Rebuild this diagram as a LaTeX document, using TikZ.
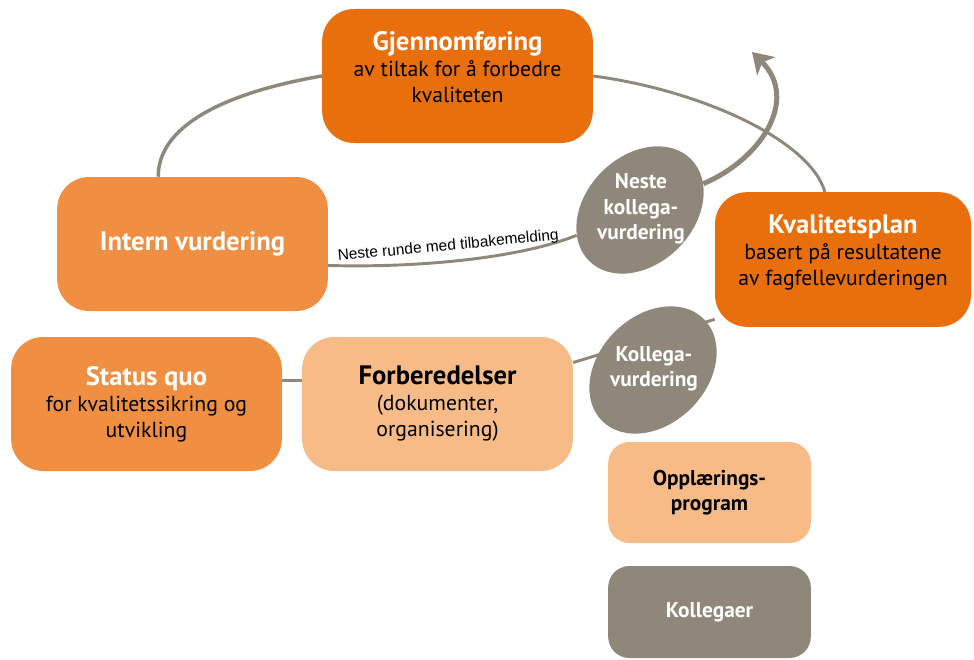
\documentclass[tikz,border=0pt]{standalone}
\usepackage{fontspec}
\setmainfont{PT Sans}
\newfontfamily\notefont{Liberation Sans}
\usetikzlibrary{shapes.geometric,arrows.meta,backgrounds}
\newcommand{\boxtitle}[1]{{\fontsize{20}{24}\selectfont\bfseries #1}}

\begin{document}
\begin{tikzpicture}[x=0.75pt,y=0.75pt,yscale=-1,xscale=1,
	box/.style={rounded corners=24pt, minimum width=203pt, minimum height=100.5pt, inner sep=0pt, align=center, font=\fontsize{16.3}{19.5}\selectfont},
	smallbox/.style={rounded corners=16pt, minimum width=152pt, inner sep=0pt, align=center, font=\fontsize{16}{19}\selectfont\bfseries},
	deeporange/.style={fill={rgb, 255:red, 233; green, 110; blue, 12 }},
	midorange/.style={fill={rgb, 255:red, 240; green, 142; blue, 65 }},
	paleorange/.style={fill={rgb, 255:red, 246; green, 187; blue, 134 }},
	taupe/.style={fill={rgb, 255:red, 143; green, 136; blue, 122 }},
	oval/.style={ellipse, taupe, minimum width=108pt, minimum height=81pt, inner sep=0pt, rotate=45},
	ovaltext/.style={align=center, text=white, inner sep=0pt, font=\fontsize{16}{19}\selectfont\bfseries},
	link/.style={draw={rgb, 255:red, 143; green, 136; blue, 122 }, line width=2.2pt}
]
	\useasboundingbox (0,0) rectangle (974,660);
	% boxes
	\draw (457.5,76) node [box, deeporange] (gjenn) {\boxtitle{\color{white}Gjennomføring}\\av tiltak for å forbedre\\kvaliteten\\[-6pt]\mbox{}};
	\draw (192.5,244) node [box, midorange, text=white] (intern) {\boxtitle{Intern vurdering}};
	\draw (843,259.5) node [box, deeporange, minimum width=192pt, minimum height=101pt] (kval) {\boxtitle{\color{white}Kvalitetsplan}\\basert på resultatene\\av fagfellevurderingen\\[-6pt]\mbox{}};
	\draw (146.5,404) node [box, midorange] (status) {\boxtitle{\color{white}Status quo}\\for kvalitetssikring og\\utvikling};
	\draw (437.5,404) node [box, paleorange] (forb) {\boxtitle{Forberedelser}\\(dokumenter,\\organisering)};
	\draw (709.5,492.5) node [smallbox, paleorange, minimum height=75.75pt] (oppl) {Opplærings-\\program};
	\draw (709.5,612) node [smallbox, taupe, minimum height=69pt, text=white] (koll) {Kollegaer};
	% ovals
	\draw (640,210) node [oval] (nk) {};
	\draw (641,209) node [ovaltext] (nktext) {Neste\\kollega-\\vurdering};
	\draw (653,370) node [oval] (kv) {};
	\draw (654,369) node [ovaltext] (kvtext) {Kollega-\\vurdering};
	\coordinate (tip) at (752,52);
	% links
	\begin{scope}[on background layer]
	\draw [link] (status.10) -- (forb.170);
	\draw [link] (forb.17) -- (kval.205);
	\draw [link, line width=2.6pt] (intern.117) .. controls (158,120) and (240,90) .. (gjenn.west);
	\draw [link] (gjenn.east) .. controls (700,90) and (810,140) .. (kval.105);
	\draw [link] (intern.-9) .. controls (420,268) and (520,258) .. (nk) node [pos=0.44, above, rotate=5.5, inner sep=5pt, font=\notefont\fontsize{11.6}{13}\selectfont] (runde) {Neste runde med tilbakemelding};
	\draw [link, line width=3.75pt, -{Stealth[length=15pt, width=19pt, inset=4pt]}] (nk) .. controls (760,160) and (800,100) .. (tip);
	\end{scope}
\end{tikzpicture}
\end{document}
